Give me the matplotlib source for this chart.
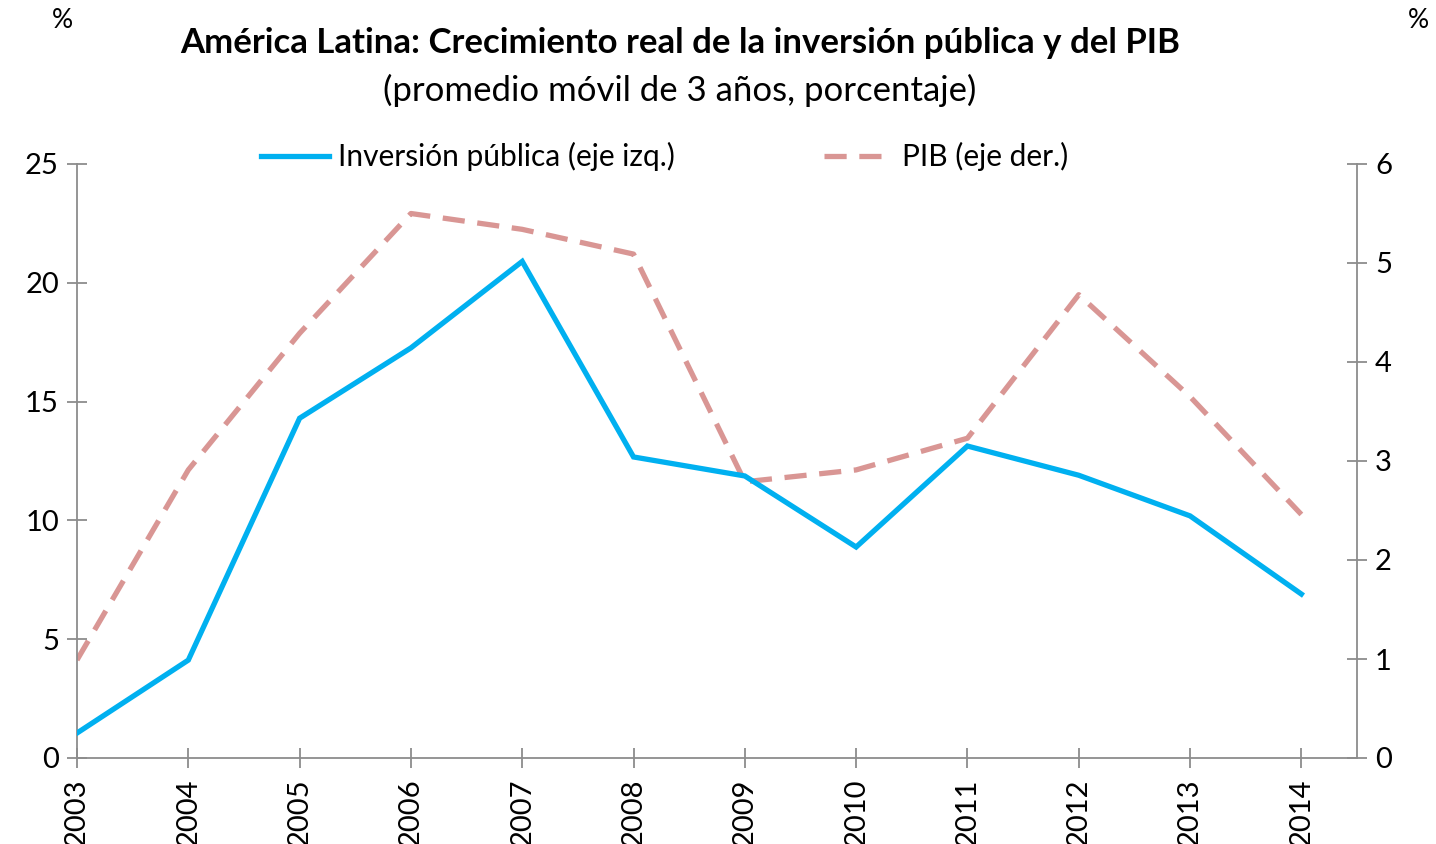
import matplotlib
matplotlib.use("Agg")
import matplotlib.pyplot as plt

plt.rcParams["font.family"] = ["Lato", "DejaVu Sans"]

years = [2003, 2004, 2005, 2006, 2007, 2008, 2009, 2010, 2011, 2012, 2013, 2014]
inversion = [1.05, 4.12, 14.3, 17.26, 20.9, 12.67, 11.87, 8.88, 13.13, 11.9, 10.19, 6.9]
pib = [0.99, 2.91, 4.29, 5.5, 5.34, 5.09, 2.79, 2.91, 3.23, 4.68, 3.65, 2.46]

title = "América Latina: Crecimiento real de la inversión pública y del PIB"
subtitle = "(promedio móvil de 3 años, porcentaje)"

blue = "#00B0F0"
pink = "#D99694"
axis_gray = "#8C8C8C"

fig = plt.figure(figsize=(14.36, 8.44), dpi=100)
ax = fig.add_axes([77 / 1436, 86 / 844, 1280 / 1436, 594 / 844])
ax2 = ax.twinx()

l1, = ax.plot(years, inversion, color=blue, lw=3.8, solid_joinstyle="miter",
              label="Inversión pública (eje izq.)", zorder=3)
l2, = ax2.plot(years, pib, color=pink, lw=3.8, dashes=(4.2, 2.4),
               label="PIB (eje der.)", zorder=2)

ax.set_xlim(2003, 2014.5)
ax.set_ylim(0, 25)
ax2.set_ylim(0, 6)
ax.set_yticks([0, 5, 10, 15, 20, 25])
ax2.set_yticks([0, 1, 2, 3, 4, 5, 6])
ax.set_xticks(years)
ax.set_xticklabels([str(y) for y in years], rotation=90)

for a in (ax, ax2):
    a.spines["top"].set_visible(False)
    for s in ("left", "right", "bottom"):
        a.spines[s].set_color(axis_gray)
        a.spines[s].set_linewidth(1.3)
    a.tick_params(direction="inout", length=14, width=1.3, color=axis_gray,
                  labelsize=21, pad=6)
ax.spines["right"].set_visible(False)
ax2.spines["left"].set_visible(False)
ax2.spines["bottom"].set_visible(False)
ax.tick_params(axis="x", pad=8)
ax.patch.set_visible(False)
ax2.set_zorder(ax.get_zorder() - 1)
ax.set_zorder(ax2.get_zorder() + 1)

ax.legend([l1, l2], [l1.get_label(), l2.get_label()], ncol=2, frameon=False,
          loc="center", bbox_to_anchor=(0.459, 1.012), fontsize=21.5,
          handlelength=2.3, handletextpad=0.3, columnspacing=5.0)

fig.text(680 / 1436, 1 - 43 / 844, title, ha="center", va="center",
         fontsize=25, fontweight="bold")
fig.text(680 / 1436, 1 - 90 / 844, subtitle, ha="center", va="center", fontsize=25)
fig.text(62 / 1436, 1 - 20 / 844, "%", ha="center", va="center", fontsize=19)
fig.text(1418 / 1436, 1 - 20 / 844, "%", ha="center", va="center", fontsize=19)

fig.savefig("out.png", dpi=100)
